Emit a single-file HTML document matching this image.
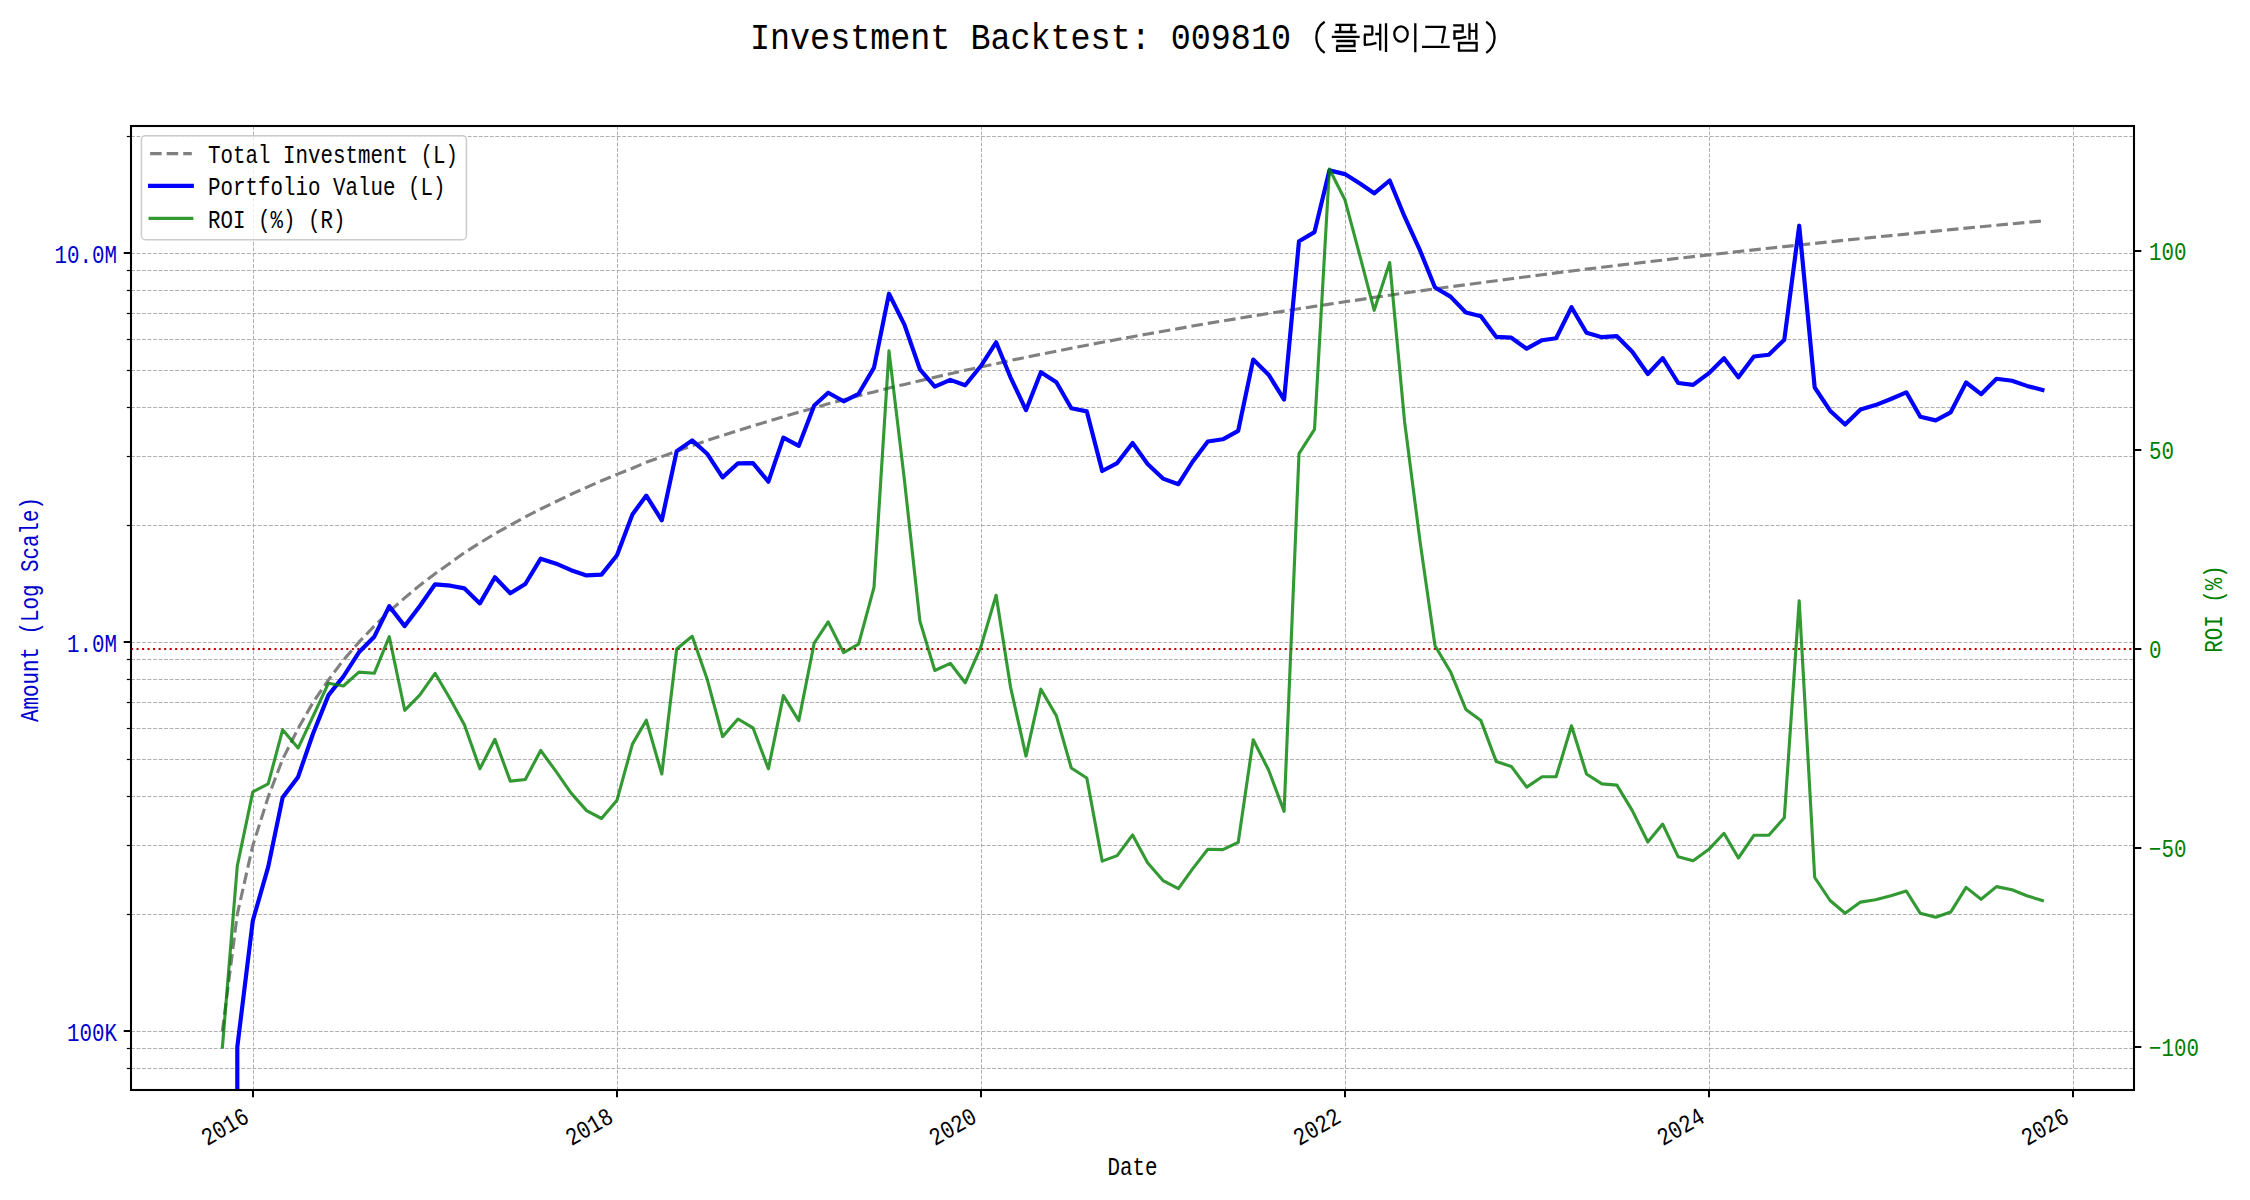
<!DOCTYPE html><html><head><meta charset="utf-8"><style>html,body{margin:0;padding:0;background:#fff;}svg{display:block;}text{font-family:"Liberation Mono",monospace;}</style></head><body>
<svg width="2250" height="1200" viewBox="0 0 2250 1200">
<rect width="2250" height="1200" fill="#fff"/>
<defs><clipPath id="ax"><rect x="131" y="126" width="2003" height="964"/></clipPath></defs>
<g stroke="#b0b0b0" stroke-width="1" stroke-dasharray="3.85 1.67"><line x1="131" y1="1068.50" x2="2134" y2="1068.50"/><line x1="131" y1="1048.50" x2="2134" y2="1048.50"/><line x1="131" y1="1031.50" x2="2134" y2="1031.50"/><line x1="131" y1="914.50" x2="2134" y2="914.50"/><line x1="131" y1="845.50" x2="2134" y2="845.50"/><line x1="131" y1="796.50" x2="2134" y2="796.50"/><line x1="131" y1="759.50" x2="2134" y2="759.50"/><line x1="131" y1="728.50" x2="2134" y2="728.50"/><line x1="131" y1="702.50" x2="2134" y2="702.50"/><line x1="131" y1="679.50" x2="2134" y2="679.50"/><line x1="131" y1="659.50" x2="2134" y2="659.50"/><line x1="131" y1="642.50" x2="2134" y2="642.50"/><line x1="131" y1="525.50" x2="2134" y2="525.50"/><line x1="131" y1="456.50" x2="2134" y2="456.50"/><line x1="131" y1="407.50" x2="2134" y2="407.50"/><line x1="131" y1="370.50" x2="2134" y2="370.50"/><line x1="131" y1="339.50" x2="2134" y2="339.50"/><line x1="131" y1="313.50" x2="2134" y2="313.50"/><line x1="131" y1="290.50" x2="2134" y2="290.50"/><line x1="131" y1="270.50" x2="2134" y2="270.50"/><line x1="131" y1="253.50" x2="2134" y2="253.50"/><line x1="131" y1="136.50" x2="2134" y2="136.50"/><line x1="253.50" y1="126" x2="253.50" y2="1090"/><line x1="617.50" y1="126" x2="617.50" y2="1090"/><line x1="981.50" y1="126" x2="981.50" y2="1090"/><line x1="1345.50" y1="126" x2="1345.50" y2="1090"/><line x1="1709.50" y1="126" x2="1709.50" y2="1090"/><line x1="2073.50" y1="126" x2="2073.50" y2="1090"/></g>
<g clip-path="url(#ax)" fill="none" stroke-linejoin="round">
<line x1="131" y1="649.00" x2="2134" y2="649.00" stroke="#c00000" stroke-width="2.08" stroke-dasharray="2.08 3.44"/>
<polyline points="222.4,1031.2 237.3,914.1 252.8,845.6 268.2,797.0 282.6,759.3 298.1,728.5 313.0,702.5 328.5,679.9 343.4,660.0 358.9,642.2 374.3,626.1 389.3,611.4 404.7,597.9 419.7,585.4 435.1,573.7 450.5,562.8 464.5,552.6 479.9,542.9 494.9,533.8 510.3,525.1 525.3,516.9 540.7,509.0 556.2,501.5 571.1,494.3 586.6,487.4 601.5,480.8 617.0,474.4 632.4,468.3 646.3,462.3 661.8,456.6 676.7,451.1 692.2,445.7 707.1,440.5 722.6,435.5 738.0,430.6 753.0,425.8 768.4,421.2 783.4,416.7 798.8,412.3 814.2,408.0 828.2,403.8 843.6,399.8 858.6,395.8 874.0,391.9 889.0,388.1 904.4,384.4 919.9,380.8 934.8,377.2 950.3,373.7 965.2,370.3 980.7,367.0 996.1,363.7 1010.5,360.5 1026.0,357.3 1040.9,354.2 1056.4,351.2 1071.3,348.2 1086.8,345.2 1102.2,342.3 1117.2,339.5 1132.6,336.7 1147.6,334.0 1163.0,331.3 1178.4,328.6 1192.4,326.0 1207.8,323.4 1222.8,320.9 1238.2,318.4 1253.2,315.9 1268.6,313.5 1284.1,311.1 1299.0,308.7 1314.5,306.4 1329.4,304.1 1344.9,301.8 1360.3,299.6 1374.2,297.4 1389.7,295.2 1404.6,293.0 1420.1,290.9 1435.0,288.8 1450.5,286.7 1465.9,284.7 1480.9,282.7 1496.3,280.7 1511.3,278.7 1526.7,276.7 1542.1,274.8 1556.1,272.9 1571.5,271.0 1586.5,269.1 1601.9,267.3 1616.9,265.5 1632.3,263.7 1647.8,261.9 1662.7,260.1 1678.2,258.3 1693.1,256.6 1708.6,254.9 1724.0,253.2 1738.4,251.5 1753.9,249.9 1768.8,248.2 1784.3,246.6 1799.2,245.0 1814.7,243.4 1830.1,241.8 1845.1,240.2 1860.5,238.6 1875.5,237.1 1890.9,235.6 1906.3,234.1 1920.3,232.6 1935.7,231.1 1950.7,229.6 1966.1,228.1 1981.1,226.7 1996.5,225.2 2012.0,223.8 2026.9,222.4 2042.4,221.0" stroke="#808080" stroke-width="3.125" stroke-dasharray="11.56 5" stroke-linejoin="round"/>
<polyline points="237.3,1300.0 237.3,1047.1 252.8,920.7 268.2,866.9 282.6,797.6 298.1,776.9 313.0,733.7 328.5,695.1 343.4,676.5 358.9,652.3 374.3,636.7 389.3,606.2 404.7,626.1 419.7,606.2 435.1,584.3 450.5,585.7 464.5,588.4 479.9,603.4 494.9,577.3 510.3,593.3 525.3,584.0 540.7,558.7 556.2,563.7 571.1,570.2 586.6,575.4 601.5,574.6 617.0,555.2 632.4,514.4 646.3,495.6 661.8,520.3 676.7,451.1 692.2,440.4 707.1,453.7 722.6,477.4 738.0,463.3 753.0,463.1 768.4,481.7 783.4,437.7 798.8,445.8 814.2,405.5 828.2,392.7 843.6,401.3 858.6,393.8 874.0,367.6 889.0,293.7 904.4,324.6 919.9,369.3 934.8,386.6 950.3,379.9 965.2,385.3 980.7,366.3 996.1,342.3 1010.5,377.3 1026.0,410.2 1040.9,372.2 1056.4,382.2 1071.3,408.2 1086.8,411.4 1102.2,471.0 1117.2,463.1 1132.6,443.0 1147.6,464.0 1163.0,478.6 1178.4,484.2 1192.4,462.0 1207.8,441.5 1222.8,439.3 1238.2,430.8 1253.2,359.6 1268.6,374.7 1284.1,399.6 1299.0,241.2 1314.5,232.1 1329.4,170.4 1344.9,174.1 1360.3,183.8 1374.2,193.3 1389.7,180.5 1404.6,216.7 1420.1,250.7 1435.0,287.5 1450.5,296.6 1465.9,312.5 1480.9,316.2 1496.3,336.9 1511.3,337.7 1526.7,348.7 1542.1,340.2 1556.1,338.3 1571.5,307.2 1586.5,332.8 1601.9,337.2 1616.9,336.2 1632.3,351.7 1647.8,374.0 1662.7,358.1 1678.2,383.0 1693.1,384.9 1708.6,373.4 1724.0,358.2 1738.4,377.3 1753.9,356.5 1768.8,354.8 1784.3,339.8 1799.2,225.7 1814.7,387.5 1830.1,410.7 1845.1,424.5 1860.5,409.4 1875.5,405.1 1890.9,399.0 1906.3,392.3 1920.3,416.8 1935.7,420.4 1950.7,412.3 1966.1,382.5 1981.1,394.2 1996.5,378.8 2012.0,380.7 2026.9,385.9 2042.4,389.9" stroke="#0000ff" stroke-width="4.17" stroke-linecap="square"/>
<polyline points="222.4,1047.0 237.3,865.9 252.8,791.9 268.2,783.9 282.6,729.8 298.1,748.1 313.0,716.3 328.5,683.2 343.4,686.0 358.9,672.1 374.3,673.3 389.3,636.7 404.7,710.3 419.7,695.2 435.1,673.3 450.5,699.5 464.5,725.0 479.9,768.8 494.9,739.3 510.3,781.1 525.3,779.5 540.7,750.5 556.2,771.6 571.1,793.1 586.6,810.6 601.5,818.5 617.0,800.2 632.4,744.1 646.3,720.2 661.8,774.0 676.7,649.0 692.2,636.3 707.1,678.9 722.6,736.6 738.0,719.0 753.0,727.8 768.4,768.8 783.4,695.6 798.8,720.6 814.2,643.0 828.2,621.9 843.6,652.6 858.6,644.2 874.0,587.3 889.0,350.9 904.4,479.9 919.9,621.1 934.8,670.5 950.3,663.3 965.2,682.8 980.7,647.4 996.1,595.3 1010.5,686.8 1026.0,756.1 1040.9,689.2 1056.4,715.9 1071.3,768.0 1086.8,778.0 1102.2,861.1 1117.2,855.6 1132.6,834.9 1147.6,862.7 1163.0,880.6 1178.4,888.6 1192.4,869.1 1207.8,849.2 1222.8,849.6 1238.2,842.4 1253.2,739.7 1268.6,770.0 1284.1,811.4 1299.0,453.6 1314.5,429.3 1329.4,169.0 1344.9,199.7 1360.3,257.4 1374.2,310.3 1389.7,262.5 1404.6,421.7 1420.1,541.9 1435.0,645.8 1450.5,671.7 1465.9,709.5 1480.9,720.6 1496.3,761.6 1511.3,766.4 1526.7,787.1 1542.1,776.8 1556.1,776.8 1571.5,725.8 1586.5,774.0 1601.9,783.9 1616.9,785.1 1632.3,810.6 1647.8,842.0 1662.7,824.1 1678.2,856.8 1693.1,860.7 1708.6,849.6 1724.0,833.3 1738.4,858.0 1753.9,835.3 1768.8,835.3 1784.3,817.8 1799.2,600.8 1814.7,877.5 1830.1,900.5 1845.1,913.3 1860.5,902.1 1875.5,899.7 1890.9,895.8 1906.3,891.0 1920.3,913.3 1935.7,917.3 1950.7,912.1 1966.1,887.4 1981.1,899.3 1996.5,886.6 2012.0,889.8 2026.9,895.8 2042.4,900.5" stroke="#008000" stroke-opacity="0.8" stroke-width="3.125" stroke-linecap="square"/>
</g>
<rect x="131" y="126" width="2003" height="964" fill="none" stroke="#000" stroke-width="2.08"/>
<g stroke="#000"><line x1="126.83" y1="1068.50" x2="131" y2="1068.50" stroke-width="1.2"/><line x1="126.83" y1="1048.50" x2="131" y2="1048.50" stroke-width="1.2"/><line x1="123.70" y1="1031.00" x2="131" y2="1031.00" stroke-width="2"/><line x1="126.83" y1="914.50" x2="131" y2="914.50" stroke-width="1.2"/><line x1="126.83" y1="845.50" x2="131" y2="845.50" stroke-width="1.2"/><line x1="126.83" y1="796.50" x2="131" y2="796.50" stroke-width="1.2"/><line x1="126.83" y1="759.50" x2="131" y2="759.50" stroke-width="1.2"/><line x1="126.83" y1="728.50" x2="131" y2="728.50" stroke-width="1.2"/><line x1="126.83" y1="702.50" x2="131" y2="702.50" stroke-width="1.2"/><line x1="126.83" y1="679.50" x2="131" y2="679.50" stroke-width="1.2"/><line x1="126.83" y1="659.50" x2="131" y2="659.50" stroke-width="1.2"/><line x1="123.70" y1="642.00" x2="131" y2="642.00" stroke-width="2"/><line x1="126.83" y1="525.50" x2="131" y2="525.50" stroke-width="1.2"/><line x1="126.83" y1="456.50" x2="131" y2="456.50" stroke-width="1.2"/><line x1="126.83" y1="407.50" x2="131" y2="407.50" stroke-width="1.2"/><line x1="126.83" y1="370.50" x2="131" y2="370.50" stroke-width="1.2"/><line x1="126.83" y1="339.50" x2="131" y2="339.50" stroke-width="1.2"/><line x1="126.83" y1="313.50" x2="131" y2="313.50" stroke-width="1.2"/><line x1="126.83" y1="290.50" x2="131" y2="290.50" stroke-width="1.2"/><line x1="126.83" y1="270.50" x2="131" y2="270.50" stroke-width="1.2"/><line x1="123.70" y1="253.00" x2="131" y2="253.00" stroke-width="2"/><line x1="126.83" y1="136.50" x2="131" y2="136.50" stroke-width="1.2"/><line x1="2134" y1="1047.00" x2="2141.30" y2="1047.00" stroke-width="2"/><line x1="2134" y1="848.00" x2="2141.30" y2="848.00" stroke-width="2"/><line x1="2134" y1="649.00" x2="2141.30" y2="649.00" stroke-width="2"/><line x1="2134" y1="450.00" x2="2141.30" y2="450.00" stroke-width="2"/><line x1="2134" y1="251.00" x2="2141.30" y2="251.00" stroke-width="2"/><line x1="253.00" y1="1090" x2="253.00" y2="1097.30" stroke-width="2"/><line x1="617.00" y1="1090" x2="617.00" y2="1097.30" stroke-width="2"/><line x1="981.00" y1="1090" x2="981.00" y2="1097.30" stroke-width="2"/><line x1="1345.00" y1="1090" x2="1345.00" y2="1097.30" stroke-width="2"/><line x1="1709.00" y1="1090" x2="1709.00" y2="1097.30" stroke-width="2"/><line x1="2073.00" y1="1090" x2="2073.00" y2="1097.30" stroke-width="2"/></g>
<text transform="translate(117.00,1041.00) scale(1,1.2)" font-size="20.83" fill="#0000cd" text-anchor="end" >100K</text>
<text transform="translate(117.00,652.00) scale(1,1.2)" font-size="20.83" fill="#0000cd" text-anchor="end" >1.0M</text>
<text transform="translate(117.00,263.00) scale(1,1.2)" font-size="20.83" fill="#0000cd" text-anchor="end" >10.0M</text>
<text transform="translate(2149.00,1056.30) scale(1,1.2)" font-size="20.83" fill="#008000" text-anchor="start" >−100</text>
<text transform="translate(2149.00,857.30) scale(1,1.2)" font-size="20.83" fill="#008000" text-anchor="start" >−50</text>
<text transform="translate(2149.00,658.30) scale(1,1.2)" font-size="20.83" fill="#008000" text-anchor="start" >0</text>
<text transform="translate(2149.00,459.30) scale(1,1.2)" font-size="20.83" fill="#008000" text-anchor="start" >50</text>
<text transform="translate(2149.00,260.30) scale(1,1.2)" font-size="20.83" fill="#008000" text-anchor="start" >100</text>
<text transform="translate(242.25,1107.00) rotate(-30) scale(1,1.2)" font-size="20.83" fill="#000" text-anchor="end" dominant-baseline="hanging">2016</text>
<text transform="translate(606.45,1107.00) rotate(-30) scale(1,1.2)" font-size="20.83" fill="#000" text-anchor="end" dominant-baseline="hanging">2018</text>
<text transform="translate(970.15,1107.00) rotate(-30) scale(1,1.2)" font-size="20.83" fill="#000" text-anchor="end" dominant-baseline="hanging">2020</text>
<text transform="translate(1334.35,1107.00) rotate(-30) scale(1,1.2)" font-size="20.83" fill="#000" text-anchor="end" dominant-baseline="hanging">2022</text>
<text transform="translate(1698.05,1107.00) rotate(-30) scale(1,1.2)" font-size="20.83" fill="#000" text-anchor="end" dominant-baseline="hanging">2024</text>
<text transform="translate(2062.25,1107.00) rotate(-30) scale(1,1.2)" font-size="20.83" fill="#000" text-anchor="end" dominant-baseline="hanging">2026</text>
<text transform="translate(1132.50,1175.00) scale(1,1.2)" font-size="20.83" fill="#000" text-anchor="middle" >Date</text>
<text transform="translate(38.00,609.50) rotate(-90) scale(1,1.2)" font-size="20.83" fill="#0000cd" text-anchor="middle" >Amount (Log Scale)</text>
<text transform="translate(2222.00,609.00) rotate(-90) scale(1,1.2)" font-size="20.83" fill="#008000" text-anchor="middle" >ROI (%)</text>
<rect x="141.4" y="135.7" width="325" height="104" rx="4" ry="4" fill="#fff" fill-opacity="0.8" stroke="#cccccc" stroke-width="1.5"/>
<line x1="150.1" y1="153.6" x2="191.8" y2="153.6" stroke="#808080" stroke-width="3.125" stroke-dasharray="11.56 5"/>
<line x1="150.1" y1="185.9" x2="191.8" y2="185.9" stroke="#0000ff" stroke-width="4.17" stroke-linecap="square"/>
<line x1="150.1" y1="218.4" x2="191.8" y2="218.4" stroke="#008000" stroke-opacity="0.8" stroke-width="3.125" stroke-linecap="square"/>
<text transform="translate(208.00,162.90) scale(1,1.2)" font-size="20.83" fill="#000" text-anchor="start" >Total Investment (L)</text>
<text transform="translate(208.00,195.20) scale(1,1.2)" font-size="20.83" fill="#000" text-anchor="start" >Portfolio Value (L)</text>
<text transform="translate(208.00,227.70) scale(1,1.2)" font-size="20.83" fill="#000" text-anchor="start" >ROI (%) (R)</text>
<text transform="translate(750.00,49.00) scale(1,1.09)" font-size="33.4" fill="#000" text-anchor="start" >Investment Backtest: 009810</text>
<path d="M1335.5,24.8L1355.8,24.8 M1340.2,24.8L1340.2,32 M1351.3,24.8L1351.3,32 M1334.5,32L1356.5,32 M1331.8,36.8L1359.7,36.8 M1336.3,41L1355.5,41 M1354.5,41L1354.5,46 M1336.3,46L1355.5,46 M1337,46L1337,50.8 M1336,50.8L1356,50.8 M1364,26.3L1372.7,26.3 M1372.3,26.3L1372.3,34.7 M1364,34.7L1372.7,34.7 M1364.8,34.7L1364.8,44.8 M1364,44.8Q1371,44.8 1376.5,42.8 M1375.3,34L1380.2,34 M1380.2,23.7L1380.2,50.5 M1386,23.3L1386,52 M1394.3,34a6.7,7.6 0 1,0 13.4,0a6.7,7.6 0 1,0 -13.4,0 M1415.3,23.2L1415.3,52.3 M1425.3,26.8L1445.5,26.8 M1445,26.8L1442,43.3 M1422,46.8L1449.7,46.8 M1453.2,25.3L1463.7,25.3 M1462.7,25.3L1462.7,31.5 M1453.3,31.5L1463.7,31.5 M1454.5,31.5L1454.5,38.5 M1453.2,38.5Q1461,38.5 1466.3,36.8 M1469.5,23.3L1469.5,39.8 M1469.5,30.8L1476.3,30.8 M1476.3,23L1476.3,39.8 M1459,43H1476.6V50.6H1459Z M1324.7,21.7A18.7,18.7 0 0,0 1324.7,52.9 M1486.2,21.7A18.7,18.7 0 0,1 1486.2,52.9" fill="none" stroke="#000" stroke-width="2.3" stroke-linecap="butt" stroke-linejoin="miter"/>
</svg></body></html>
